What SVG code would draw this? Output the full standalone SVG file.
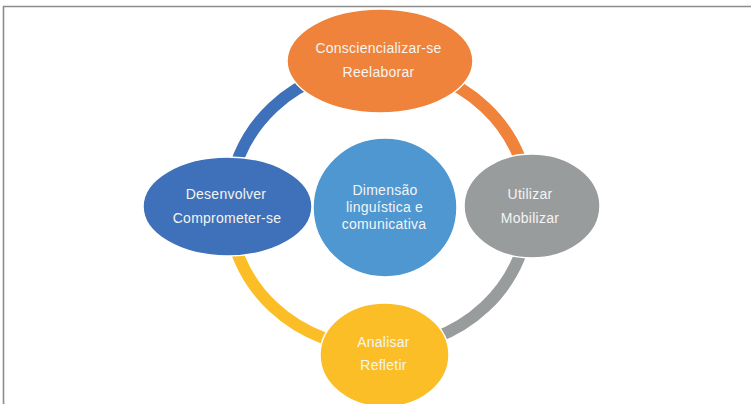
<svg xmlns="http://www.w3.org/2000/svg" width="751" height="404" viewBox="0 0 751 404">
<style>
.node{stroke:#ffffff;stroke-width:1.5}
.arc{fill:none;stroke-width:12}
.lbl{font-family:"Liberation Sans",Arial,sans-serif;font-size:14px;fill:#f4f4f4;text-anchor:middle;letter-spacing:0.25px}
</style>
<rect x="0" y="0" width="751" height="404" fill="#ffffff"/>
<path d="M3.5,404 V6.5 H751" fill="none" stroke="#8c8c8c" stroke-width="1.6"/>
<g id="connectors">
<path class="arc" stroke="#3E71B9" d="M229,207 A150,141 0 0 1 379,66"/>
<path class="arc" stroke="#F0833B" d="M379,66 A150,141 0 0 1 529,207"/>
<path class="arc" stroke="#999C9D" d="M529,207 A150,141 0 0 1 379,348"/>
<path class="arc" stroke="#FCBE26" d="M379,348 A150,141 0 0 1 229,207"/>
</g>
<g id="node-top">
<ellipse class="node" cx="380" cy="61" rx="93" ry="52" fill="#F0833B"/>
<text class="lbl" x="378.5" y="53">Consciencializar-se</text>
<text class="lbl" x="378.5" y="77">Reelaborar</text>
</g>
<g id="node-left">
<ellipse class="node" cx="227.5" cy="206.5" rx="84.5" ry="49.5" fill="#3E71B9"/>
<text class="lbl" x="226" y="199">Desenvolver</text>
<text class="lbl" x="227" y="223">Comprometer-se</text>
</g>
<g id="node-center">
<ellipse class="node" cx="385" cy="207.5" rx="72" ry="69.5" fill="#4F97D1"/>
<text class="lbl" x="385" y="195">Dimensão</text>
<text class="lbl" x="384.5" y="212">linguística e</text>
<text class="lbl" x="384" y="229">comunicativa</text>
</g>
<g id="node-right">
<ellipse class="node" cx="532" cy="206" rx="68" ry="52" fill="#999C9D"/>
<text class="lbl" x="530" y="199">Utilizar</text>
<text class="lbl" x="530" y="223">Mobilizar</text>
</g>
<g id="node-bottom">
<ellipse class="node" cx="384.5" cy="355" rx="64.5" ry="52" fill="#FCBE26"/>
<text class="lbl" x="383.5" y="347">Analisar</text>
<text class="lbl" x="383.5" y="370">Refletir</text>
</g>
</svg>
